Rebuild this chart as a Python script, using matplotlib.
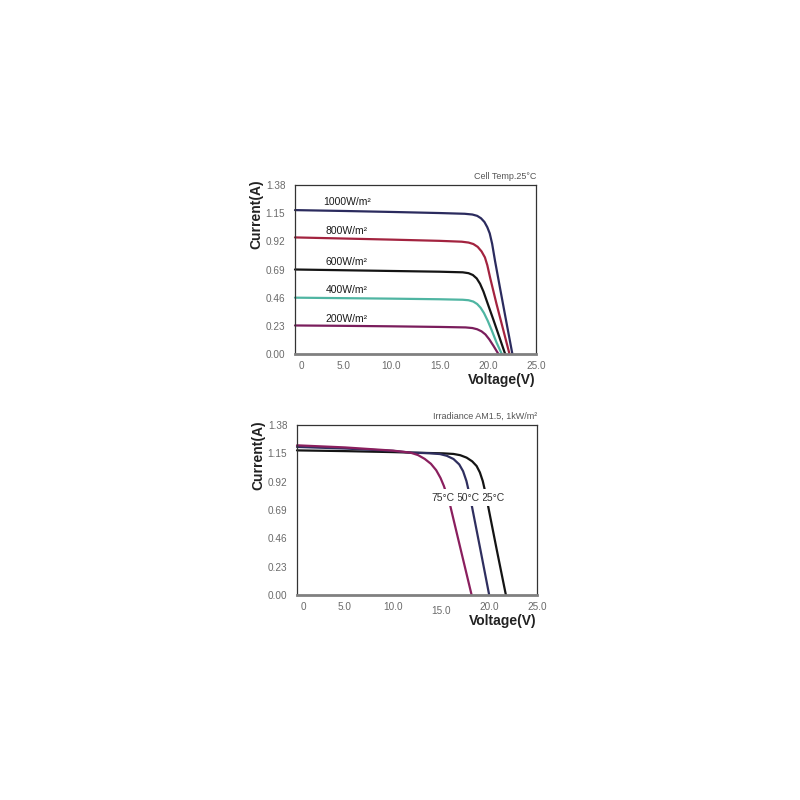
import matplotlib
matplotlib.use("Agg")
import matplotlib.pyplot as plt
import matplotlib.transforms as mtransforms

plt.rcParams['font.family'] = ['Liberation Sans', 'DejaVu Sans']

# ---------------- data: irradiance panel (Cell Temp. 25°C) ----------------
irr_labels = ["1000W/m²", "800W/m²", "600W/m²", "400W/m²", "200W/m²"]
irr_colors = ["#2b2b5e", "#a3233f", "#141414", "#4fb5a2", "#7a1d5c"]

v_1000 = [0, 5, 10, 15, 17.6, 18.4, 18.9, 19.3, 19.65, 19.95, 20.2, 20.45, 20.75, 21.3, 21.9, 22.55]
i_1000 = [1.175, 1.168, 1.160, 1.151, 1.145, 1.139, 1.128, 1.108, 1.078, 1.035, 0.985, 0.900, 0.760, 0.525, 0.272, 0.0]

v_800 = [0, 5, 10, 15, 17.3, 18.0, 18.5, 18.95, 19.35, 19.7, 19.95, 20.25, 20.9, 21.6, 22.25]
i_800 = [0.952, 0.943, 0.934, 0.924, 0.917, 0.910, 0.898, 0.875, 0.838, 0.789, 0.725, 0.620, 0.410, 0.198, 0.0]

v_600 = [0, 5, 10, 15, 17.4, 18.0, 18.45, 18.85, 19.2, 19.55, 19.95, 20.57, 21.2, 21.8]
i_600 = [0.690, 0.684, 0.678, 0.672, 0.667, 0.660, 0.645, 0.617, 0.573, 0.510, 0.420, 0.282, 0.138, 0.0]

v_400 = [0, 5, 10, 15, 17.4, 18.0, 18.5, 18.9, 19.25, 19.6, 20.0, 20.4, 20.9, 21.45]
i_400 = [0.460, 0.456, 0.452, 0.447, 0.443, 0.439, 0.428, 0.408, 0.378, 0.335, 0.270, 0.195, 0.095, 0.0]

v_200 = [0, 5, 10, 15, 17.7, 18.4, 18.9, 19.35, 19.75, 20.15, 20.6, 21.1]
i_200 = [0.233, 0.230, 0.226, 0.221, 0.217, 0.212, 0.202, 0.185, 0.160, 0.120, 0.065, 0.0]

irr_v = [v_1000, v_800, v_600, v_400, v_200]
irr_i = [i_1000, i_800, i_600, i_400, i_200]
irr_label_pos = [(2.9, 1.245), (3.2, 1.005), (3.2, 0.752), (3.2, 0.522), (3.2, 0.285)]

# ---------------- data: temperature panel (AM1.5, 1 kW/m²) ----------------
temp_labels = ["25°C", "50°C", "75°C"]
temp_colors = ["#141414", "#2f2f5f", "#8a1f5e"]

v_25 = [0, 5, 10, 11.8, 15.2, 16.3, 17.0, 17.67, 18.25, 18.71, 19.05, 19.35, 19.6, 19.81, 20.8, 21.76]
i_25 = [1.174, 1.168, 1.160, 1.156, 1.150, 1.145, 1.135, 1.115, 1.085, 1.047, 0.995, 0.925, 0.840, 0.760, 0.370, 0.0]

v_50 = [0, 5, 10, 11.8, 13.8, 14.9, 15.6, 16.3, 16.9, 17.3, 17.65, 17.9, 18.12, 19.1, 20.02]
i_50 = [1.202, 1.189, 1.170, 1.156, 1.151, 1.144, 1.130, 1.104, 1.060, 1.005, 0.925, 0.840, 0.760, 0.370, 0.0]

v_75 = [0, 5, 10, 11.8, 12.6, 13.3, 13.95, 14.5, 14.95, 15.3, 15.6, 15.9, 17.05, 18.19]
i_75 = [1.215, 1.198, 1.172, 1.156, 1.136, 1.105, 1.065, 1.013, 0.950, 0.885, 0.815, 0.745, 0.370, 0.0]

temp_v = [v_25, v_50, v_75]
temp_i = [i_25, i_50, i_75]
temp_label_pos = [(20.4, 0.79), (17.8, 0.79), (15.2, 0.79)]

x_ticks = [0, 5, 10, 15, 20, 25]
x_ticklabels = ["0", "5.0", "10.0", "15.0", "20.0", "25.0"]
y_ticks = [0.00, 0.23, 0.46, 0.69, 0.92, 1.15, 1.38]
y_ticklabels = ["0.00", "0.23", "0.46", "0.69", "0.92", "1.15", "1.38"]

fig = plt.figure(figsize=(8, 8), dpi=100)
ax1 = fig.add_axes([295 / 800, 1 - 354 / 800, 241 / 800, 169 / 800])
ax2 = fig.add_axes([297 / 800, 1 - 595 / 800, 240 / 800, 170 / 800])


def style(ax, title, ylab_center):
    ax.set_xlim(0, 25)
    ax.set_ylim(0, 1.38)
    ax.set_xticks(x_ticks)
    ax.set_xticklabels(x_ticklabels)
    ax.set_yticks(y_ticks)
    ax.set_yticklabels(y_ticklabels)
    ax.tick_params(axis='both', length=0, colors="#6a6a6a", labelsize=7.2)
    ax.tick_params(axis='x', pad=5)
    ax.tick_params(axis='y', pad=7)
    for s in ['top', 'left', 'right']:
        ax.spines[s].set_color("#333333")
        ax.spines[s].set_linewidth(0.9)
    ax.spines['bottom'].set_color("#808080")
    ax.spines['bottom'].set_linewidth(2.0)
    ax.text(1.0, 1.025, title, transform=ax.transAxes, ha='right', va='bottom',
            fontsize=6.5, color="#555555")
    ax.set_xlabel("Voltage(V)", fontsize=10, fontweight='bold', color="#222222")
    ax.xaxis.set_label_coords(1.0, -0.155)
    ax.xaxis.label.set_horizontalalignment('right')
    ax.xaxis.label.set_verticalalignment('center')
    ax.set_ylabel("Current(A)", fontsize=10, fontweight='bold', color="#222222")
    ax.yaxis.set_label_coords(-0.13, ylab_center)
    # "0" tick label sits slightly to the right in the reference
    lbl0 = ax.get_xticklabels()[0]
    lbl0.set_transform(lbl0.get_transform() +
                       mtransforms.ScaledTranslation(6 / 100, 0, fig.dpi_scale_trans))


for v, i, c in zip(irr_v, irr_i, irr_colors):
    ax1.plot(v, i, color=c, lw=1.6, solid_capstyle='round', solid_joinstyle='round', clip_on=False)
for lab, (x, y) in zip(irr_labels, irr_label_pos):
    ax1.text(x, y, lab, fontsize=7.5, color="#1a1a1a", ha='left', va='center')
style(ax1, "Cell Temp.25°C", 0.83)

for v, i, c in zip(temp_v, temp_i, temp_colors):
    ax2.plot(v, i, color=c, lw=1.6, solid_capstyle='round', solid_joinstyle='round', clip_on=False)
for lab, (x, y) in zip(temp_labels, temp_label_pos):
    ax2.text(x, y, lab, fontsize=7.5, color="#333333", ha='center', va='center',
             bbox=dict(facecolor='white', edgecolor='none', pad=2.5))
style(ax2, "Irradiance AM1.5, 1kW/m²", 0.82)
# "15.0" label sits a little lower in the reference
lbl15 = ax2.get_xticklabels()[3]
lbl15.set_transform(lbl15.get_transform() +
                    mtransforms.ScaledTranslation(0, -4 / 100, fig.dpi_scale_trans))

fig.savefig("out.png", dpi=100, facecolor='white')
